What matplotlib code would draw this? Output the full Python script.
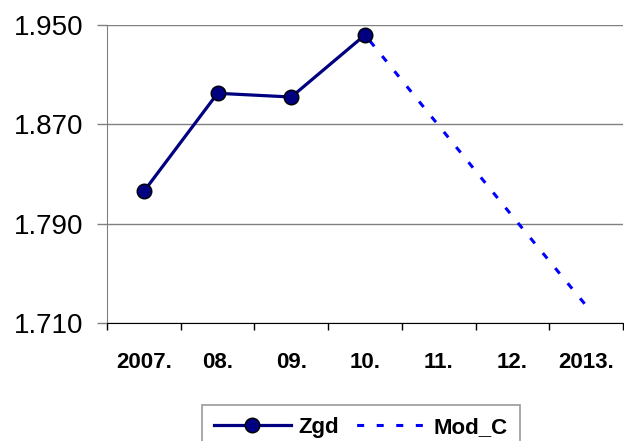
import matplotlib
matplotlib.use('Agg')
import matplotlib.pyplot as plt
from matplotlib.ticker import FixedLocator

plt.rcParams['font.family'] = ['Liberation Sans', 'DejaVu Sans']

godine = ['2007.', '08.', '09.', '10.', '11.', '12.', '2013.']
zgd = [1.816, 1.895, 1.892, 1.942]
mod_c = [1.942, 1.869, 1.796, 1.724]
y_ticks = [1.710, 1.790, 1.870, 1.950]
y_labels = ['1.710', '1.790', '1.870', '1.950']

x_zgd = list(range(len(zgd)))
x_mod = list(range(3, 3 + len(mod_c)))

fig = plt.figure(figsize=(6.24, 4.41), dpi=100)
ax = fig.add_axes([107/624, 118/441, 516/624, 298/441])

ax.plot(x_zgd, zgd, color='#000080', lw=2.3, marker='o', ms=10.5,
        mfc='#000080', mec='black', mew=1.0, label='Zgd', zorder=4)
ax.plot(x_mod, mod_c, color='#0000ff', lw=2.2,
        linestyle=(3.9, (2.3, 4.1)), label='Mod_C', zorder=3)

ax.set_xlim(-0.5, 6.5)
ax.set_ylim(1.710, 1.950)
ax.set_yticks(y_ticks)
ax.set_yticklabels(y_labels, fontsize=20)
ax.set_xticks(range(len(godine)))
ax.set_xticklabels(godine, fontsize=16, fontweight='bold')
ax.xaxis.set_minor_locator(FixedLocator([i + 0.5 for i in range(-1, 7)]))
ax.tick_params(axis='x', which='major', length=0, pad=21)
ax.tick_params(axis='x', which='minor', length=5, width=1, color='black')
ax.tick_params(axis='y', length=7, width=1, color='#808080', pad=10)

ax.grid(axis='y', color='#808080', lw=1)
ax.set_axisbelow(True)
for s in ['top', 'right']:
    ax.spines[s].set_visible(False)
ax.spines['left'].set_color('#808080')
ax.spines['bottom'].set_color('black')

leg = fig.legend(loc='upper left', bbox_to_anchor=(201.7/624, 36/441),
                 ncol=2, prop={'weight': 'bold', 'size': 16},
                 frameon=True, fancybox=False, borderaxespad=0,
                 handlelength=3.45, handletextpad=0.35, columnspacing=0.45,
                 borderpad=0.55)
leg.get_frame().set_edgecolor('#808080')
leg.get_frame().set_linewidth(1.2)

fig.savefig('out.png', dpi=100)
